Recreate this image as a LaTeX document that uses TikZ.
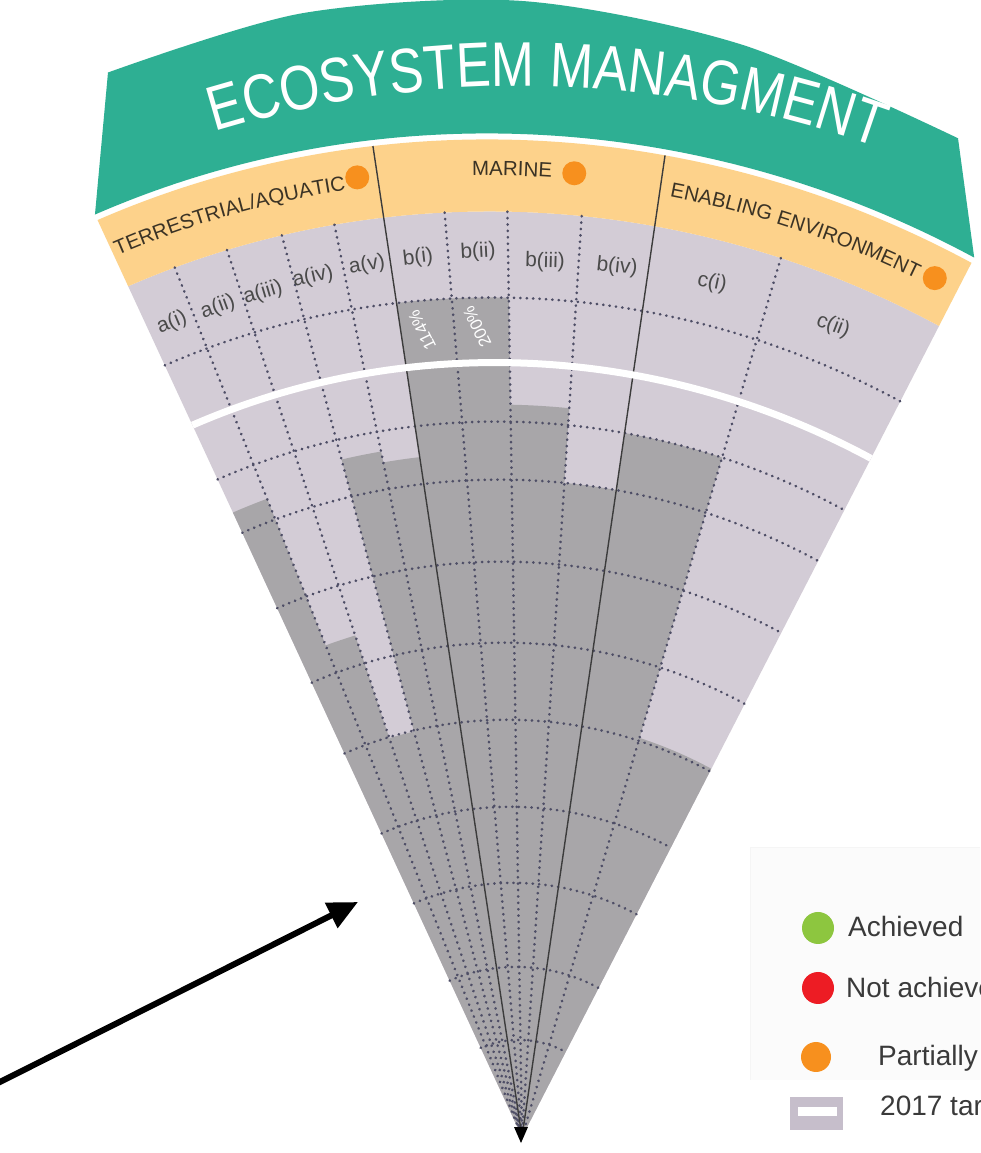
\documentclass[tikz,border=0pt]{standalone}
\usepackage{fontspec}
\setmainfont{Liberation Sans}
\newfontfamily\titlefont[FakeStretch=0.82]{Liberation Sans}
\newfontfamily\labfont{Liberation Sans}
\usetikzlibrary{decorations.text,arrows.meta}
\definecolor{tealband}{HTML}{2EAF93}
\definecolor{orangeband}{HTML}{FDD28B}
\definecolor{lav}{HTML}{D3CCD6}
\definecolor{darkcell}{HTML}{A8A6A9}
\definecolor{dotc}{HTML}{4E4E66}
\definecolor{odot}{HTML}{F7901E}
\definecolor{labc}{HTML}{4A4A4A}
\definecolor{hdrc}{HTML}{3B3325}
\definecolor{secc}{HTML}{3C3C3C}
\definecolor{legc}{HTML}{3A3A3A}
\definecolor{gdot}{HTML}{8DC63F}
\definecolor{rdot}{HTML}{ED1C24}
\definecolor{legrect}{HTML}{C6BECB}
\newcommand\titlestyle{\titlefont\fontsize{63}{63}\selectfont\color{white}}
\newcommand\hdrstyle{\labfont\fontsize{20.5}{20.5}\selectfont\color{hdrc}}
\begin{document}
\begin{tikzpicture}[x=1pt,y=1pt,
  img/.style={shift={(-522,1137)},yscale=-1},
  fan/.style={cm={1,-0.035,0,1,(0,0)}},
  dotline/.style={draw=dotc,line width=2.7pt,dash pattern=on 0.3pt off 6.1pt,line cap=round},
  secline/.style={draw=secc,line width=1.4pt},
  collab/.style={font=\labfont\fontsize{21}{21}\selectfont,text=labc,inner sep=0pt},
  pct/.style={font=\labfont\fontsize{17}{17}\selectfont,text=white,inner sep=0pt},
  legtext/.style={font=\labfont\fontsize{28}{28}\selectfont,text=legc,anchor=base west,inner sep=0pt},
  hdot/.style={circle,inner sep=0pt,minimum size=24pt,fill=odot},
  ldot/.style={circle,inner sep=0pt,minimum size=32pt},
]
\useasboundingbox (-522,-16) rectangle (458,1137);
\fill[white] (-522,-16) rectangle (458,1137);

\begin{scope}[fan]
  % lavender base
  \fill[lav] (0,0) -- (115.2:925) arc[start angle=115.2,end angle=63.2,radius=925] -- cycle;
  % dark progress per column
  \foreach \a/\b/\r in {115.2/112.05/679, 112.05/108.6/523, 108.6/105.05/416,
     105.05/101.7/695, 101.7/98.6/684, 98.6/94.8/839, 94.8/90.9/839,
     90.9/86.3/732, 86.3/81.75/657, 81.75/73.75/715, 73.75/63.2/420}
    \fill[darkcell] (0,0) -- (\a:\r) arc[start angle=\a,end angle=\b,radius=\r] -- cycle;
  % orange header band
  \fill[orangeband] (115.2:925) arc[start angle=115.2,end angle=63.2,radius=925]
     -- (63.2:997) arc[start angle=63.2,end angle=115.2,radius=997] -- cycle;
  % teal banner
  \fill[tealband] (115.2:1003) arc[start angle=115.2,end angle=63.2,radius=1003]
     -- plot[smooth] coordinates {(436,1014) (220,1100) (0,1136) (-220,1116) (-414,1050)}
     -- cycle;
  % dotted rings
  \foreach \r in {839,715,657,575,494,417,330,254,170,97}
    \draw[dotline] (115.2:\r) arc[start angle=115.2,end angle=63.2,radius=\r];
  % dotted column dividers
  \foreach \a in {112.05,108.6,105.05,101.7,94.8,90.9,86.3,73.75}
    \draw[dotline] (\a:925) -- (0,0);
  % section dividers
  \foreach \a in {98.6,81.75}
    \draw[secline] (\a:997) -- (0,0);
  % 2017 target line
  \draw[white,line width=7pt] (115.2:774) arc[start angle=115.2,end angle=63.2,radius=774];
  % section headers along arcs
  \path[decorate,decoration={text along path,text align=center,
     text={|\hdrstyle|TERRESTRIAL/AQUATIC}}]
     (117:957) arc[start angle=117,end angle=98.6,radius=957];
  \path[decorate,decoration={text along path,text align=center,
     text={|\hdrstyle|MARINE}}]
     (95:961) arc[start angle=95,end angle=86.2,radius=961];
  \path[decorate,decoration={text along path,text align=center,
     text={|\hdrstyle|ENABLING ENVIRONMENT}}]
     (82:957) arc[start angle=82,end angle=64.8,radius=957];
  \node[hdot] (dotA) at (99.8:968) {};
  \node[hdot] (dotB) at (86.9:967) {};
  \node[hdot] (dotC) at (64.7:966) {};
\end{scope}

% title (unsheared arc)
\path[decorate,decoration={text along path,text align=center,
   text={|\titlestyle|ECOSYSTEM MANAGMENT}}]
   (109.6:1051) arc[start angle=109.6,end angle=67.6,radius=1051];

\begin{scope}[img]
  % column labels
  \node[collab,rotate=23] (la1) at (172,323) {a(i)};
  \node[collab,rotate=20] (la2) at (218,307) {a(ii)};
  \node[collab,rotate=16.5] (la3) at (263,293) {a(iii)};
  \node[collab,rotate=13] (la4) at (313,277) {a(iv)};
  \node[collab,rotate=10] (la5) at (367,265) {a(v)};
  \node[collab,rotate=6.5] (lb1) at (418,258) {b(i)};
  \node[collab,rotate=3] (lb2) at (478,252) {b(ii)};
  \node[collab,rotate=-1.5] (lb3) at (545,262) {b(iii)};
  \node[collab,rotate=-6] (lb4) at (617,267) {b(iv)};
  \node[collab,rotate=-12] (lc1) at (712,283) {c(i)};
  \node[collab,rotate=-21] (lc2) at (833,326) {c(ii)};
  \node[pct,rotate=116] (p1) at (422,330) {114\%};
  \node[pct,rotate=116] (p2) at (477,327) {200\%};
  % apex tip
  \fill[black] (514,1127) -- (528,1127) -- (521,1143) -- cycle;
  % pointer arrow
  \coordinate (arrS) at (-6,1085);
  \coordinate (arrE) at (358,902);
  \draw[line width=6pt,-{Triangle[length=30pt,width=27pt]}] (arrS) -- (arrE);
  % legend
  \begin{scope}
    \clip (0,0) rectangle (980,1153);
    \fill[gray!3] (750,848) rectangle (990,1080);
    \draw[gray!8,line width=1pt] (750,1080) -- (750,848) -- (990,848);
    \node[ldot,fill=gdot] (lg1) at (818,928) {};
    \node[legtext] (lt1) at (848,937) {Achieved};
    \node[ldot,fill=rdot] (lg2) at (818,988) {};
    \node[legtext] (lt2) at (846,998) {Not achieved};
    \node[ldot,minimum size=30pt,fill=odot] (lg3) at (816,1057) {};
    \node[legtext] (lt3) at (878,1066) {Partially achieved};
    \node[fill=legrect,minimum width=53pt,minimum height=33pt,inner sep=0pt] (lg4) at (816.5,1113.5) {};
    \fill[white] (798,1107) rectangle (837,1116);
    \node[legtext] (lt4) at (880,1116) {2017 target};
  \end{scope}
\end{scope}
\end{tikzpicture}
\end{document}
